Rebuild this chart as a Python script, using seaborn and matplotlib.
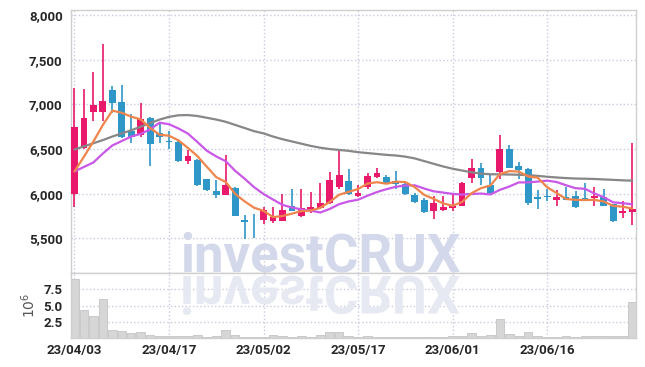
import numpy as np
import pandas as pd
import matplotlib
matplotlib.use("Agg")
import matplotlib.pyplot as plt
import seaborn as sns
from matplotlib.textpath import TextPath
from matplotlib.patches import PathPatch
from matplotlib.font_manager import FontProperties
from matplotlib.transforms import Affine2D
from matplotlib.ticker import FuncFormatter

# ---------------- data ----------------
opens = [6000, 6510, 6910, 6910, 7160, 7030, 6700, 6655, 6850, 6680,
         6590, 6580, 6370, 6380, 6165, 6030, 5990, 6065, 5705, 5700,
         5710, 5690, 5700, 5865, 5755, 5805, 5835, 5900, 6080, 6140,
         5970, 6080, 6190, 6185, 6145, 6110, 5985, 5930, 5805, 5820,
         5840, 5865, 6180, 6290, 6100, 6240, 6500, 6305, 6275, 5960,
         5980, 5935, 5960, 5975, 5955, 5955, 5965, 5885, 5790, 5800]
highs = [7180, 7170, 7360, 7670, 7200, 7220, 6890, 7020, 6855, 6790,
         6700, 6610, 6490, 6390, 6170, 6155, 6430, 6070, 5760, 5770,
         5850, 5850, 6000, 6050, 6050, 6015, 6115, 6245, 6480, 6275,
         6100, 6230, 6285, 6210, 6255, 6115, 6005, 5950, 5975, 5975,
         5995, 6135, 6385, 6340, 6210, 6655, 6545, 6360, 6285, 6040,
         6050, 6040, 6070, 6025, 6115, 6080, 6055, 5890, 5920, 6565]
lows = [5850, 6500, 6810, 6810, 6900, 6620, 6565, 6640, 6310, 6570,
        6500, 6360, 6330, 6090, 6035, 5955, 5985, 5750, 5490, 5500,
        5660, 5675, 5690, 5805, 5735, 5790, 5825, 5885, 6055, 5990,
        5960, 6050, 6180, 6110, 6055, 5990, 5900, 5785, 5715, 5810,
        5805, 5860, 6115, 6100, 6000, 6160, 6285, 6170, 5875, 5825,
        5915, 5865, 5925, 5845, 5920, 5865, 5860, 5680, 5725, 5650]
closes = [6750, 6850, 6990, 7040, 7020, 6630, 6630, 6840, 6560, 6640,
          6575, 6370, 6420, 6100, 6045, 5990, 6100, 5755, 5680, 5690,
          5820, 5745, 5820, 5810, 5835, 5850, 5895, 6155, 6210, 5995,
          6010, 6200, 6230, 6125, 6105, 5995, 5910, 5800, 5900, 5855,
          5860, 6125, 6290, 6180, 6005, 6500, 6290, 6265, 5900, 5945,
          5965, 5965, 5930, 5855, 5930, 5980, 5865, 5690, 5810, 5825]
volumes = [9.1, 4.3, 3.4, 6.0, 1.3, 1.1, 0.7, 0.9, 0.5, 0.35,
           0.3, 0.3, 0.3, 0.5, 0.2, 0.3, 1.2, 0.5, 0.2, 0.1,
           0.1, 0.4, 0.3, 0.2, 0.3, 0.2, 0.5, 0.9, 1.0, 0.3,
           0.2, 0.3, 0.2, 0.2, 0.1, 0.2, 0.2, 0.15, 0.1, 0.1,
           0.3, 0.3, 0.8, 0.3, 0.4, 2.9, 0.6, 0.3, 0.9, 0.3,
           0.1, 0.15, 0.3, 0.15, 0.3, 0.3, 0.3, 0.3, 0.3, 5.6]
ma5 = [6250, 6415, 6585, 6769, 6930, 6906, 6862, 6832, 6736, 6660,
       6649, 6597, 6513, 6421, 6302, 6185, 6131, 5998, 5914, 5843,
       5809, 5738, 5751, 5777, 5806, 5812, 5842, 5909, 5989, 6021,
       6053, 6114, 6129, 6112, 6134, 6131, 6073, 5987, 5942, 5892,
       5865, 5908, 6006, 6062, 6092, 6220, 6253, 6248, 6192, 6180,
       6073, 6008, 5941, 5932, 5929, 5932, 5912, 5864, 5855, 5834]
ma10 = [6250, 6300, 6350, 6450, 6540, 6590, 6640, 6670, 6720, 6795,
        6778, 6730, 6673, 6579, 6481, 6417, 6364, 6256, 6168, 6073,
        5997, 5935, 5875, 5846, 5825, 5811, 5790, 5830, 5883, 5914,
        5933, 5978, 6019, 6051, 6078, 6092, 6094, 6058, 6027, 6013,
        5998, 5991, 5997, 6002, 5992, 6043, 6081, 6127, 6127, 6136,
        6147, 6131, 6095, 6062, 6055, 6003, 5960, 5903, 5894, 5882]
ma60 = [6495, 6530, 6565, 6600, 6640, 6675, 6710, 6750, 6790, 6830,
        6860, 6878, 6880, 6870, 6850, 6830, 6805, 6770, 6735, 6700,
        6675, 6640, 6610, 6585, 6560, 6535, 6515, 6500, 6490, 6480,
        6465, 6455, 6445, 6435, 6428, 6415, 6395, 6365, 6335, 6305,
        6280, 6260, 6240, 6225, 6218, 6217, 6215, 6212, 6208, 6200,
        6190, 6182, 6175, 6170, 6168, 6165, 6160, 6155, 6150, 6146]
tick_idx = [0, 10, 20, 30, 40, 50]
tick_labels = ["23/04/03", "23/04/17", "23/05/02", "23/05/17", "23/06/01", "23/06/16"]
price_ticks = [5500, 6000, 6500, 7000, 7500, 8000]
vol_ticks = [2.5, 5.0, 7.5]

# ---------------- styling ----------------
RED = "#e8196a"
BLUE = "#2f96c8"
ORANGE = "#f0854c"
VIOLET = "#c957e8"
GRAY = "#878787"
GRID = "#c9cbe0"
SPINE = "#cfcfcf"
TXT = "#262626"

sns.set_theme(style="white")
plt.rcParams['font.family'] = ['Roboto', 'DejaVu Sans']

df = pd.DataFrame({
    "idx": np.arange(len(closes)),
    "open": opens, "high": highs, "low": lows, "close": closes,
    "volume": volumes, "ma5": ma5, "ma10": ma10, "ma60": ma60,
})

W, H = 645, 367
fig = plt.figure(figsize=(W / 100, H / 100), dpi=100)
fig.patch.set_facecolor("white")
L, R = 71, 636
ax = fig.add_axes([L / W, 1 - 273 / H, (R - L) / W, (273 - 10) / H])
ax2 = fig.add_axes([L / W, 1 - 338 / H, (R - L) / W, (338 - 273) / H])

# ---------------- price panel ----------------
up = df["close"] >= df["open"]
colors = np.where(up, RED, BLUE)
ax.vlines(df["idx"], df["low"], df["high"], colors=colors, lw=1.2, zorder=3)
body = (df["close"] - df["open"]).abs().clip(lower=10)
ax.bar(df["idx"], body, bottom=np.minimum(df["open"], df["close"]),
       width=0.72, color=colors, linewidth=0, zorder=4)

sns.lineplot(data=df, x="idx", y="ma60", ax=ax, color=GRAY, lw=1.6, zorder=5, legend=False)
sns.lineplot(data=df, x="idx", y="ma10", ax=ax, color=VIOLET, lw=1.6, zorder=6, legend=False)
sns.lineplot(data=df, x="idx", y="ma5", ax=ax, color=ORANGE, lw=1.6, zorder=7, legend=False)

ax.set_xlim(-0.37, 59.4)
ax.set_ylim(5113, 8056)
ax.set_yticks(price_ticks)
ax.yaxis.set_major_formatter(FuncFormatter(lambda v, p: f"{v:,.0f}"))
ax.set_xticks(tick_idx)
ax.tick_params(axis="x", labelbottom=False, length=0)
ax.tick_params(axis="y", length=0, pad=6, labelsize=9.5, labelcolor=TXT)
ax.grid(True, color=GRID, linestyle=":", linewidth=1.0)
ax.set_axisbelow(True)
ax.set_xlabel("")
ax.set_ylabel("")
for s in ax.spines.values():
    s.set_color(SPINE)
    s.set_linewidth(1.0)

# ---------------- volume panel ----------------
sns.barplot(data=df, x="idx", y="volume", ax=ax2, color="#d6d6d6",
            edgecolor="#c4c4c4", linewidth=0.6, width=0.9, saturation=1,
            errorbar=None, native_scale=True, zorder=2)
ax2.set_xlim(-0.37, 59.4)
ax2.set_ylim(0, 10.05)
ax2.set_yticks(vol_ticks)
ax2.yaxis.set_major_formatter(FuncFormatter(lambda v, p: f"{v:.1f}"))
ax2.set_xticks(tick_idx)
ax2.set_xticklabels(tick_labels)
ax2.tick_params(axis="x", length=0, pad=4, labelsize=9.5, labelcolor=TXT)
ax2.tick_params(axis="y", length=0, pad=6, labelsize=9.5, labelcolor=TXT)
for lab in ax.get_yticklabels() + ax2.get_yticklabels() + ax2.get_xticklabels():
    lab.set_fontweight("bold")
ax2.grid(True, color=GRID, linestyle=":", linewidth=1.0)
ax2.set_axisbelow(True)
ax2.set_xlabel("")
ax2.set_ylabel(r"$10^6$", fontsize=10, color="#555555")
ax2.yaxis.set_label_coords((38 - L) / (R - L), 0.5)
for s in ax2.spines.values():
    s.set_color(SPINE)
    s.set_linewidth(1.0)

# ---------------- watermark ----------------
ax.text(180 / W, 1 - 272 / H, "investCRUX", transform=fig.transFigure,
        fontsize=38, fontfamily="Roboto", fontweight="bold", color="#d3d8ea",
        ha="left", va="baseline", zorder=1, clip_on=False)
tp = TextPath((0, 0), "investCRUX", size=38,
              prop=FontProperties(family="Roboto", weight="bold"))
tr = (Affine2D().scale(1, -1).translate(180 * 0.72, (H - 276) * 0.72).scale(1 / 72.0)
      + fig.dpi_scale_trans)
refl = PathPatch(tp, transform=tr, facecolor="#e6e9f2", edgecolor="none",
                 zorder=1, clip_on=False)
ax2.add_artist(refl)

fig.savefig("out.png", dpi=100, facecolor="white")
